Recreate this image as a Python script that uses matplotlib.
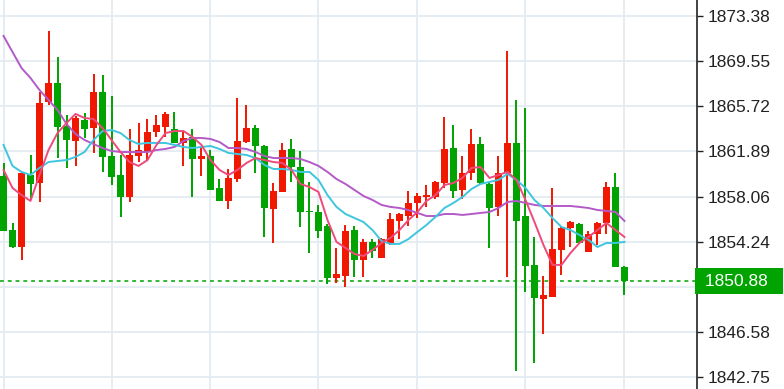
#candlestick chart with three moving averages (red = up, green = down)
import matplotlib
matplotlib.use('Agg')
import matplotlib.pyplot as plt
import matplotlib.transforms as mtransforms

opens = [1859.81, 1855.22, 1853.78, 1859.89, 1859.21, 1866.09, 1867.70, 1864.05, 1862.78, 1864.56,
         1863.88, 1866.93, 1861.50, 1859.89, 1858.02, 1861.50, 1861.84, 1863.54, 1863.96, 1863.79,
         1862.61, 1863.12, 1861.25, 1861.50, 1858.79, 1857.69, 1859.55, 1862.69, 1863.88, 1862.35,
         1857.01, 1858.45, 1862.10, 1860.57, 1856.84, 1856.75, 1855.56, 1851.15, 1851.32, 1855.22,
         1852.68, 1854.21, 1852.85, 1854.04, 1855.99, 1856.41, 1857.52, 1858.02, 1858.02, 1859.21,
         1862.18, 1858.62, 1860.06, 1862.52, 1859.13, 1857.18, 1860.06, 1862.61, 1856.41, 1852.26,
         1849.37, 1849.54, 1853.53, 1855.39, 1855.73, 1853.36, 1854.89, 1855.82, 1858.87, 1852.09]
highs = [1860.91, 1855.82, 1860.15, 1861.59, 1866.93, 1872.11, 1869.90, 1864.98, 1864.90, 1865.15,
         1868.46, 1868.38, 1866.59, 1861.59, 1863.79, 1864.30, 1864.64, 1864.98, 1865.24, 1865.24,
         1863.54, 1863.79, 1862.18, 1862.01, 1859.55, 1860.40, 1866.42, 1865.83, 1864.13, 1862.40,
         1859.21, 1862.61, 1862.95, 1861.93, 1859.30, 1857.35, 1855.73, 1853.70, 1855.65, 1855.56,
         1854.46, 1854.46, 1854.55, 1856.67, 1856.67, 1858.53, 1858.36, 1859.04, 1859.38, 1864.81,
         1864.13, 1861.50, 1863.79, 1863.12, 1859.21, 1861.50, 1870.41, 1866.26, 1865.58, 1854.63,
         1851.32, 1858.79, 1855.48, 1855.99, 1855.82, 1855.14, 1855.90, 1859.30, 1860.06, 1852.17]
lows = [1855.14, 1853.70, 1852.68, 1857.77, 1857.60, 1865.83, 1861.33, 1860.49, 1860.66, 1863.03,
        1861.76, 1860.15, 1859.04, 1856.33, 1857.60, 1860.99, 1861.16, 1863.12, 1863.12, 1862.61,
        1860.66, 1858.02, 1859.81, 1858.62, 1857.69, 1857.01, 1859.30, 1862.61, 1860.06, 1854.63,
        1854.12, 1858.45, 1859.30, 1855.48, 1853.27, 1854.55, 1850.64, 1850.73, 1850.39, 1851.24,
        1851.24, 1852.85, 1852.85, 1853.95, 1854.46, 1855.56, 1856.24, 1857.18, 1857.86, 1858.79,
        1857.94, 1857.86, 1859.47, 1859.15, 1853.70, 1856.41, 1851.24, 1843.26, 1849.96, 1843.94,
        1846.40, 1849.54, 1851.41, 1853.78, 1854.12, 1853.36, 1853.95, 1854.89, 1852.09, 1849.71]
closes = [1855.14, 1853.78, 1860.06, 1859.13, 1866.00, 1867.70, 1863.96, 1862.86, 1864.73, 1863.79,
          1866.93, 1861.42, 1859.72, 1858.02, 1861.59, 1862.01, 1863.54, 1864.13, 1865.07, 1862.61,
          1863.03, 1861.25, 1861.50, 1858.62, 1857.69, 1859.64, 1862.78, 1863.88, 1862.35, 1857.09,
          1858.53, 1862.01, 1860.57, 1856.75, 1856.75, 1855.14, 1851.15, 1851.49, 1855.14, 1852.68,
          1854.21, 1853.44, 1854.46, 1856.16, 1856.58, 1857.52, 1858.11, 1858.19, 1859.30, 1862.10,
          1858.53, 1860.06, 1862.52, 1859.21, 1857.09, 1860.06, 1862.61, 1855.99, 1852.17, 1849.45,
          1849.71, 1853.61, 1855.39, 1855.90, 1854.12, 1854.89, 1855.82, 1858.87, 1852.09, 1850.88]

# moving averages
ma_fast = [1860.32, 1858.79, 1858.19, 1857.69, 1859.89, 1862.01, 1863.45, 1864.30, 1865.07, 1864.73,
           1864.64, 1863.88, 1862.86, 1861.84, 1860.99, 1860.66, 1861.16, 1862.44, 1863.45, 1863.62,
           1863.62, 1863.12, 1862.44, 1861.16, 1860.32, 1859.89, 1860.32, 1860.91, 1861.33, 1861.16,
           1860.99, 1860.91, 1860.32, 1859.13, 1858.87, 1858.45, 1856.07, 1854.21, 1853.70, 1853.19,
           1853.02, 1853.53, 1854.12, 1854.55, 1855.22, 1856.07, 1856.75, 1857.69, 1858.19, 1859.04,
           1859.21, 1859.64, 1860.49, 1860.57, 1859.64, 1859.89, 1860.15, 1859.47, 1857.77, 1855.90,
           1853.95, 1852.26, 1852.26, 1853.27, 1854.12, 1854.63, 1855.22, 1855.82, 1855.22, 1854.63]
ma_mid = [1862.44, 1860.66, 1860.15, 1859.89, 1860.49, 1860.99, 1861.08, 1861.16, 1861.42, 1861.84,
          1862.86, 1863.62, 1863.71, 1863.45, 1862.86, 1862.52, 1862.61, 1862.61, 1862.61, 1862.44,
          1862.27, 1862.18, 1862.27, 1862.35, 1862.10, 1861.76, 1861.67, 1861.59, 1861.33, 1860.74,
          1860.40, 1860.40, 1860.32, 1860.15, 1860.15, 1859.47, 1858.19, 1857.18, 1856.58, 1856.24,
          1855.90, 1855.22, 1854.29, 1854.04, 1854.04, 1854.46, 1855.06, 1855.65, 1856.33, 1857.09,
          1857.52, 1858.02, 1858.70, 1859.13, 1859.30, 1859.47, 1859.98, 1859.47, 1858.79, 1857.77,
          1857.09, 1856.24, 1855.48, 1855.22, 1854.80, 1854.38, 1853.78, 1854.12, 1854.12, 1854.21]
ma_slow = [1871.69, 1870.33, 1868.97, 1868.12, 1867.10, 1866.26, 1865.41, 1864.22, 1863.37, 1862.86,
           1862.52, 1862.18, 1861.93, 1861.84, 1861.84, 1861.84, 1861.84, 1862.01, 1862.10, 1862.27,
           1862.78, 1863.03, 1863.03, 1862.95, 1862.69, 1862.18, 1862.18, 1862.10, 1861.84, 1861.50,
           1861.33, 1861.33, 1861.33, 1861.25, 1860.99, 1860.66, 1860.15, 1859.55, 1859.13, 1858.62,
           1858.11, 1857.77, 1857.35, 1857.18, 1857.09, 1856.92, 1856.67, 1856.41, 1856.41, 1856.58,
           1856.58, 1856.50, 1856.58, 1856.67, 1856.75, 1857.09, 1857.60, 1857.69, 1857.52, 1857.35,
           1857.26, 1857.26, 1857.26, 1857.26, 1857.18, 1857.09, 1856.92, 1856.84, 1856.75, 1855.99]

price_ticks = [1842.75, 1846.58, 1850.41, 1854.24, 1858.06, 1861.89, 1865.72, 1869.55, 1873.38]
time_grid = [0, 12, 23, 35, 46, 58, 69]
last_price = 1850.88

UP = '#f01800'
DOWN = '#00a300'

fig = plt.figure(figsize=(7.84, 3.89), dpi=100)
ax = fig.add_axes([0, 0, 697 / 784, 1])

x = list(range(len(closes)))
colors = [UP if c >= o else DOWN for o, c in zip(opens, closes)]
bottoms = [min(o, c) for o, c in zip(opens, closes)]
heights = [max(abs(c - o), 0.12) for o, c in zip(opens, closes)]

ax.vlines(x, lows, highs, colors=colors, linewidth=1.4, zorder=3)
ax.bar(x, heights, bottom=bottoms, width=0.78, color=colors, zorder=4)

ax.plot(x, ma_slow, color='#b45ac8', linewidth=1.4, zorder=5)
ax.plot(x, ma_mid, color='#3ec6df', linewidth=1.4, zorder=5)
ax.plot(x, ma_fast, color='#ee4a7c', linewidth=1.4, zorder=5)

ax.axhline(last_price, color='#33b833', linestyle=(0, (2, 2)), linewidth=1.4, zorder=2)

ax.set_xlim(-0.39, 77.06)
ax.set_ylim(1841.73, 1874.74)

# grid
for p in price_ticks:
    ax.axhline(p, color='#e3eaf1', linewidth=1.3, zorder=0)
for g in time_grid:
    ax.axvline(g, color='#e3eaf1', linewidth=1.3, zorder=0)

ax.set_xticks([])
ax.yaxis.tick_right()
ax.set_yticks(price_ticks)
ax.set_yticklabels(['' if abs(p - 1850.41) < 0.01 else '%.2f' % p for p in price_ticks],
                   fontsize=12.5, family='Liberation Sans', color='#111111')
ax.tick_params(axis='y', direction='out', length=4, width=1, pad=4, colors='#222222')
for s in ['top', 'left', 'bottom']:
    ax.spines[s].set_visible(False)
ax.spines['right'].set_color('#222222')
ax.spines['right'].set_linewidth(1.2)

# current price tag
trans = mtransforms.blended_transform_factory(fig.transFigure, ax.transData)
ax.text(700 / 784, last_price, ' %.2f  ' % last_price, transform=trans, ha='left', va='center',
        fontsize=12.5, family='Liberation Sans', color='white', clip_on=False, zorder=10,
        bbox=dict(boxstyle='square,pad=0.3', fc='#00a300', ec='none'))

plt.savefig('out.png', dpi=100)
